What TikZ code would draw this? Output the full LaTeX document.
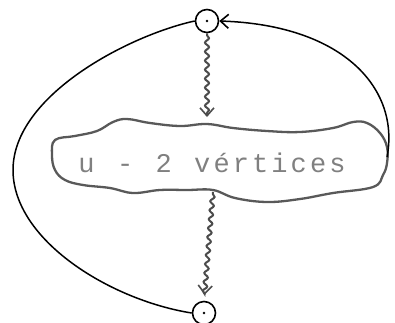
\documentclass[tikz,border=0pt]{standalone}
\usepackage{fontspec}
\newfontfamily\dotmono{Liberation Mono}
\usetikzlibrary{arrows.meta,decorations.pathmorphing}
\newcommand{\mch}[1]{\makebox[19.3pt]{#1}}
\tikzset{
  vert/.style={circle,draw,line width=1.6pt,minimum size=23pt,inner sep=0pt},
  arc/.style={line width=1.5pt},
  wig/.style={line width=2pt,draw=black!70,decorate,
    decoration={snake,segment length=9pt,amplitude=2pt,pre length=2pt,post length=6pt}},
  barb/.style={-{Straight Barb[length=8pt,width=14pt,line width=1.6pt]}},
  blobline/.style={line width=2.3pt,draw=black!65},
  lbl/.style={text=black!50,font=\dotmono\fontsize{27}{27}\selectfont,inner sep=0pt}
}
\begin{document}
\begin{tikzpicture}[x=1pt,y=-1pt]
\useasboundingbox (0,0) rectangle (395,322);
\node[vert] (t) at (207,21) {};
\node[vert] (b) at (204,313) {};
\fill (t.center) circle (1.3pt);
\fill (b.center) circle (1.3pt);
% blob
\draw[blobline] plot[smooth cycle,tension=0.65] coordinates {
 (55,140) (75,136) (97,131) (113,122) (127,119) (150,123) (180,126) (207,124)
 (233,128) (267,131) (300,132) (333,128) (353,122) (367,123) (380,133) (387,147)
 (387,163) (383,175) (373,187) (333,193) (300,199) (267,202) (235,198) (213,190)
 (187,190) (160,190) (133,193) (110,188) (83,185) (65,180) (55,170) (52,155)};
\coordinate (btop) at (207,120);
\coordinate (bbot) at (213,192);
\coordinate (bright) at (387,157);
\node[lbl] (txt) at (212,163) {\mch{u}\mch{ }\mch{-}\mch{ }\mch{2}\mch{ }\mch{v}\mch{é}\mch{r}\mch{t}\mch{i}\mch{c}\mch{e}\mch{s}};
% wiggly arrows
\draw[wig,barb,shorten >=3pt] (t.south) -- (btop);
\draw[wig,barb,shorten >=6pt] (bbot) -- (b.north);
% left arc
\draw[arc] (t.west) .. controls (130,35) and (13,95) .. (13,170)
  .. controls (13,240) and (110,300) .. (b.west);
% right arc
\draw[arc,barb] (bright) .. controls (400,90) and (345,25) .. (t.east);
\end{tikzpicture}
\end{document}
